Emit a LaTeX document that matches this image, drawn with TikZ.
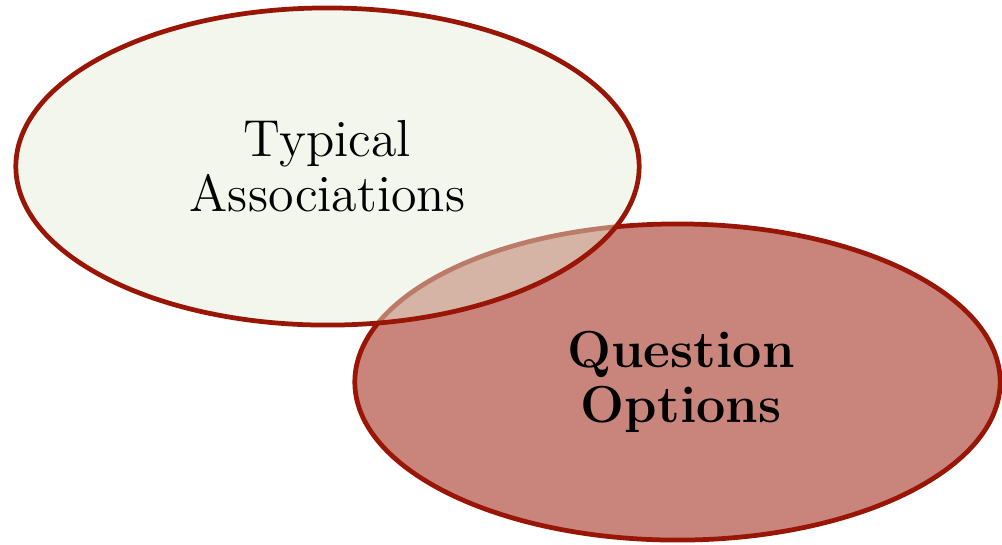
\documentclass[tikz,border=0pt]{standalone}
\usepackage{tikz}
\usetikzlibrary{shapes.geometric}
\definecolor{rimred}{RGB}{153,22,6}
\definecolor{paleleaf}{RGB}{228,235,216}
\definecolor{rosefill}{RGB}{201,132,123}

\begin{document}
\begin{tikzpicture}[x=0.01cm,y=-0.01cm,
  venn/.style={ellipse, draw=rimred, line width=1.35pt, align=center, inner sep=0pt}]
  \useasboundingbox (0,0) rectangle (1002,544);
  % lower set first, the upper one lies over it
  \node[venn, fill=rosefill, minimum width=6.45cm, minimum height=3.16cm,
        font=\fontsize{14.8}{15.6}\selectfont\bfseries] (options) at (677.5,382) {\hspace{2pt}Question\\\hspace{2pt}Options};
  \node[venn, fill=paleleaf, fill opacity=0.47, text opacity=1, minimum width=6.23cm, minimum height=3.17cm,
        font=\fontsize{14.8}{15.6}\selectfont] (assoc) at (327.5,166.5) {Typical\\Associations};
\end{tikzpicture}
\end{document}
